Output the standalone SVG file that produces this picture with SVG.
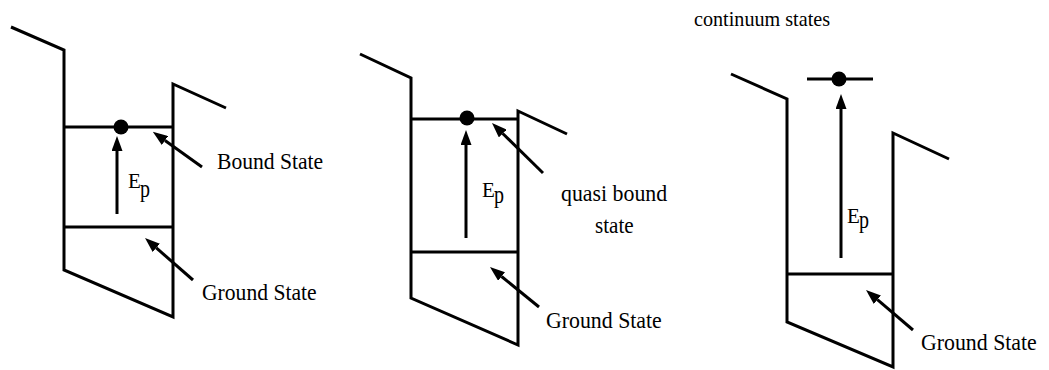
<svg xmlns="http://www.w3.org/2000/svg" width="1049" height="370" viewBox="0 0 1049 370">
<style>
.w{fill:none;stroke:#000;stroke-width:3;stroke-linejoin:miter}
.lv{stroke:#000;stroke-width:3}
.ar{stroke:#000;stroke-width:3;marker-end:url(#ah)}
text{font-family:'Liberation Serif',serif;fill:#000}
.t{font-size:24px}
.s{font-size:21px}
.e{font-size:21px}
.p{font-size:25px}
</style>
<defs>
<marker id="ah" markerUnits="userSpaceOnUse" markerWidth="15" markerHeight="11" refX="0" refY="5.5" orient="auto">
<path d="M0,0 L15,5.5 L0,11 z" fill="#000"/>
</marker>
</defs>
<rect width="1049" height="370" fill="#fff"/>
<g id="well1">
<polyline class="w" points="11,27 64,50 64,270 173,317 173,84 226,108"/>
<line class="lv" x1="64" y1="127" x2="173" y2="127"/>
<line class="lv" x1="64" y1="227" x2="173" y2="227"/>
<circle cx="121" cy="127" r="7.5" fill="#000"/>
</g>
<g id="well2">
<polyline class="w" points="360,54 411,78 411,298 518,345 518,111 567,134"/>
<line class="lv" x1="411" y1="119" x2="518" y2="119"/>
<line class="lv" x1="411" y1="252" x2="518" y2="252"/>
<circle cx="467" cy="118" r="7.5" fill="#000"/>
</g>
<g id="well3">
<polyline class="w" points="731,74 787,99 787,322 893,367 893,133 949,159"/>
<line class="lv" x1="787" y1="274" x2="893" y2="274"/>
<line class="lv" x1="807" y1="79" x2="873" y2="79"/>
<circle cx="839" cy="79" r="7.5" fill="#000"/>
</g>
<g id="connectors">
<line class="ar" x1="117" y1="214" x2="117" y2="151"/>
<line class="ar" x1="466" y1="238" x2="466" y2="145"/>
<line class="ar" x1="841" y1="258" x2="841" y2="109"/>
<line class="ar" x1="202" y1="167" x2="165" y2="140.5"/>
<line class="ar" x1="193" y1="280" x2="156.3" y2="247.9"/>
<line class="ar" x1="543" y1="173" x2="502.7" y2="133.5"/>
<line class="ar" x1="539" y1="307" x2="501.6" y2="276.5"/>
<line class="ar" x1="913" y1="330" x2="877.4" y2="299.7"/>
</g>
<g id="labels">
<text class="e" x="128" y="188">E</text>
<text class="p" transform="translate(140 197) scale(0.8 1)">p</text>
<text class="e" x="482" y="197">E</text>
<text class="p" transform="translate(494 203) scale(0.8 1)">p</text>
<text class="e" x="847" y="223">E</text>
<text class="p" transform="translate(859 228) scale(0.8 1)">p</text>
<text class="t" transform="translate(217 169) scale(0.9 1)">Bound State</text>
<text class="t" transform="translate(202 300) scale(0.9 1)">Ground State</text>
<text class="t" transform="translate(561 201) scale(0.91 1)">quasi bound</text>
<text class="t" transform="translate(595 233) scale(0.88 1)">state</text>
<text class="t" transform="translate(546 328) scale(0.91 1)">Ground State</text>
<text class="t" transform="translate(921 350) scale(0.91 1)">Ground State</text>
<text class="s" transform="translate(694 26) scale(0.96 1)">continuum states</text>
</g>
</svg>
